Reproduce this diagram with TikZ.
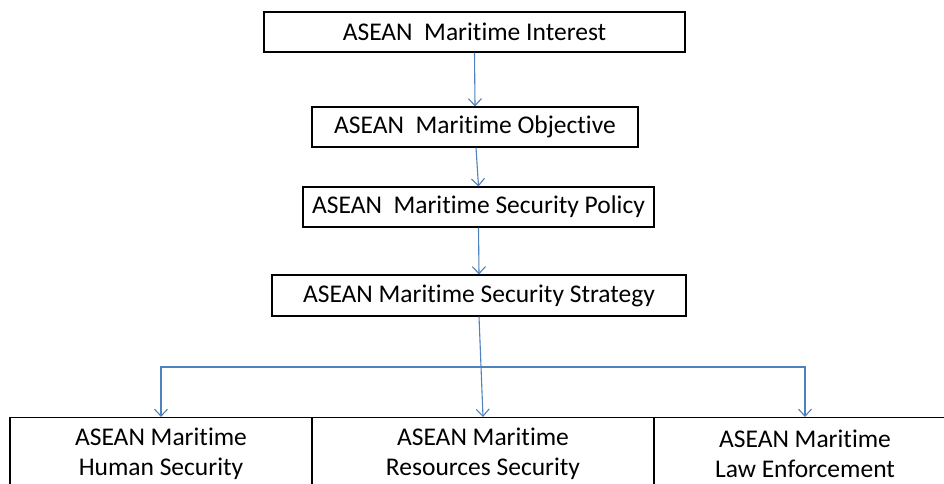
\documentclass[tikz,border=0pt]{standalone}
\usepackage{fontspec}
\setmainfont[Ligatures=CommonOff]{Carlito}
\usetikzlibrary{arrows.meta}
\definecolor{conn}{HTML}{4F81BD}
\tikzset{
  box/.style={draw=black, line width=1.1pt, rectangle, inner sep=0pt, align=center,
    font=\fontsize{25.5}{30}\selectfont},
  link/.style={draw=conn, line width=1.1pt},
  arr/.style={link, -{Straight Barb[length=7pt,width=13pt,line width=1.1pt]}}
}
\begin{document}
\begin{tikzpicture}[x=1pt,y=-1pt]
\useasboundingbox (0,0) rectangle (944,483);
\clip (0,0) rectangle (944,483);
\fill[white] (0,0) rectangle (944,483);
\node[box, minimum width=421pt, minimum height=40pt] (interest) at (474.5,32) {ASEAN\ \ Maritime Interest};
\node[box, minimum width=326pt, minimum height=40pt] (objective) at (475,127) {ASEAN\ \ Maritime Objective};
\node[box, minimum width=351pt, minimum height=40pt] (policy) at (478.5,207) {ASEAN\ \ Maritime Security Policy};
\node[box, minimum width=414pt, minimum height=41pt] (strategy) at (479,295.5) {ASEAN Maritime Security Strategy};
\node[box, minimum width=302pt, minimum height=73pt] (human) at (161,454) {ASEAN Maritime\\Human Security};
\node[box, minimum width=342pt, minimum height=73pt] (resources) at (483,454) {ASEAN Maritime\\Resources Security};
\node[box, minimum width=302pt, minimum height=73pt] (law) at (805,454) {ASEAN Maritime\\Law Enforcement};
\coordinate (junction) at (481,367);
\draw[arr] (interest.south) -- (objective.north);
\draw[arr] ([xshift=1pt]objective.south) -- (policy.north);
\draw[arr] (policy.south) -- (strategy.north);
\draw[arr] (strategy.south) -- (resources.north);
\draw[arr] (junction) -| (human.north);
\draw[arr] (junction) -| (law.north);
\end{tikzpicture}
\end{document}
